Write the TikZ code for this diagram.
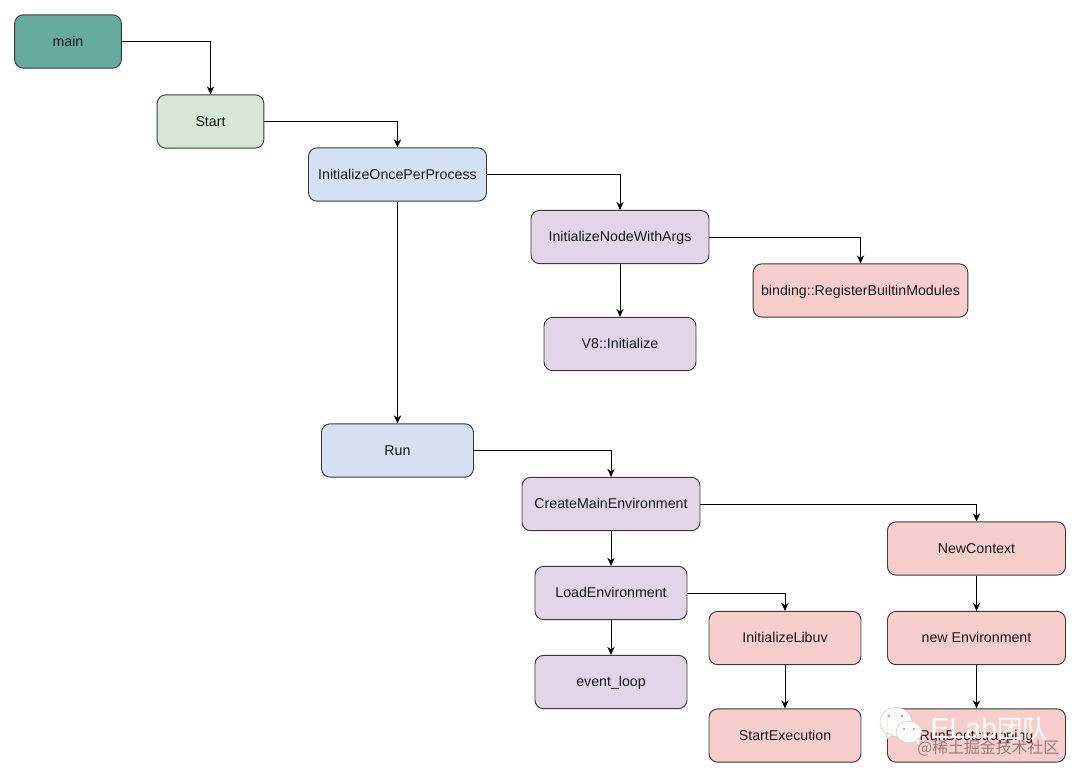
\documentclass[tikz,border=0pt]{standalone}
\usepackage{fontspec}
\setmainfont{Liberation Sans}
\newfontfamily\cjkfont{Noto Sans CJK SC}
\usetikzlibrary{arrows.meta,calc}
\definecolor{cmain}{HTML}{67AB9F}
\definecolor{cstart}{HTML}{D5E8D4}
\definecolor{cblue}{HTML}{D4E1F5}
\definecolor{cpurple}{HTML}{E1D5E7}
\definecolor{cred}{HTML}{F8CECC}
\definecolor{cedge}{HTML}{3A3A3A}
\tikzset{
  x=0.75pt,y=-0.75pt,
  box/.style={draw=cedge,line width=0.7pt,rounded corners=6.5pt,align=center,inner sep=0pt,
    text height=8.8pt,text depth=2pt,
    font=\fontsize{10.65pt}{12pt}\selectfont,text=black!90},
  wa/.style={box,minimum width=133.5pt,minimum height=40pt},
  wb/.style={box,minimum width=114pt,minimum height=40pt},
  wc/.style={box,minimum width=80pt,minimum height=40pt},
  wd/.style={box,minimum width=161pt,minimum height=40pt},
  link/.style={draw=black,line width=0.75pt,-{Stealth[length=6pt,width=5.5pt]}},
  wechat/.style={fill=white,fill opacity=0.92,draw=black!25,line width=0.3pt},
}
\begin{document}
\begin{tikzpicture}
\useasboundingbox (0,0) rectangle (1080,777);
\node[wc,fill=cmain]  (main) at (68,41.5) {main};
\node[wc,fill=cstart] (start) at (210.5,121.5) {Start};
\node[wa,fill=cblue]  (once) at (397.5,174.5) {InitializeOncePerProcess};
\node[wa,fill=cpurple] (args) at (620,237) {InitializeNodeWithArgs};
\node[wd,fill=cred]   (bind) at (860.5,290.5) {binding::RegisterBuiltinModules};
\node[wb,fill=cpurple] (veight) at (620,344) {V8::Initialize};
\node[wb,fill=cblue]  (run) at (397.5,450.5) {Run};
\node[wa,fill=cpurple] (env) at (611,504) {CreateMainEnvironment};
\node[wa,fill=cred]   (ctx) at (976.5,548.5) {NewContext};
\node[wb,fill=cpurple] (load) at (611,593) {LoadEnvironment};
\node[wb,fill=cred]   (uv) at (785,638) {InitializeLibuv};
\node[wa,fill=cred]   (newenv) at (976.5,638) {new Environment};
\node[wb,fill=cpurple] (loop) at (611,682) {event\_loop};
\node[wb,fill=cred]   (exec) at (785,735.5) {StartExecution};
\node[wa,fill=cred]   (boot) at (976.5,735.5) {RunBootstrapping};
\draw[link] (main.east) -| (start.north);
\draw[link] (start.east) -| (once.north);
\draw[link] (once.east) -| (args.north);
\draw[link] (args.east) -| (bind.north);
\draw[link] (args.south) -- (veight.north);
\draw[link] (once.south) -- (run.north);
\draw[link] (run.east) -| (env.north);
\draw[link] (env.east) -| (ctx.north);
\draw[link] (env.south) -- (load.north);
\draw[link] (load.south) -- (loop.north);
\draw[link] (load.east) -| (uv.north);
\draw[link] (uv.south) -- (exec.north);
\draw[link] (ctx.south) -- (newenv.north);
\draw[link] (newenv.south) -- (boot.north);
% watermark
\begin{scope}
\fill[wechat] (896,722) ellipse [x radius=16,y radius=14.5];
\fill[wechat] (886,733) -- (887,739) -- (893,735) -- cycle;
\fill[black!30] (889,716) circle (1.6) (902,716) circle (1.6);
\fill[wechat] (909,732) ellipse [x radius=13,y radius=11];
\fill[wechat] (915,741) -- (919,746) -- (919,738) -- cycle;
\fill[black!30] (904,729) circle (1.4) (914,729) circle (1.4);
\end{scope}
\node[anchor=west,inner sep=0pt,text=white,font=\fontsize{21.5pt}{24pt}\selectfont] (wmark) at (930,729) {ELab{\cjkfont\fontsize{19pt}{24pt}\selectfont 团队}};
\node[anchor=west,inner sep=0pt,text=black,text opacity=0.4,font=\cjkfont\fontsize{11.9pt}{14pt}\selectfont] (wsite) at (917,748) {@稀土掘金技术社区};
\end{tikzpicture}
\end{document}
